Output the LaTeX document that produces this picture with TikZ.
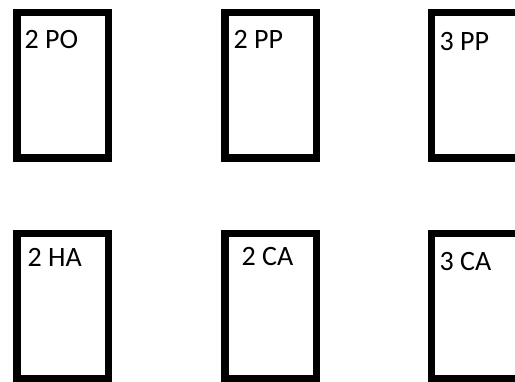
\documentclass[tikz,border=0pt]{standalone}
\usepackage{fontspec}
\setmainfont{Carlito}
\usetikzlibrary{positioning}

\begin{document}
\begin{tikzpicture}[x=1pt, y=-1pt,
    cell/.style={draw=black, line width=7.5pt, inner sep=0pt, outer sep=0pt,
                 anchor=north west, minimum width=91.5pt, minimum height=145.5pt},
    wide/.style={minimum width=100pt},
    tag/.style={anchor=base west, inner sep=0pt, font=\fontsize{28}{30}\selectfont}]
  \useasboundingbox (0,0) rectangle (515,381);
  \clip (0,0) rectangle (515,381);
  % top row
  \node[cell] (po) at (17,12.5) {};
  \node[cell] (pp2) at (225,12.5) {};
  \node[cell, wide] (pp3) at (431.5,12.5) {};
  % bottom row
  \node[cell] (ha) at (17,233.5) {};
  \node[cell] (ca2) at (225,233.5) {};
  \node[cell, wide] (ca3) at (431.5,233.5) {};
  % labels
  \node[tag] (potag) at (24.5,48) {2 PO};
  \node[tag] (pp2tag) at (233.5,48.3) {2 PP};
  \node[tag] (pp3tag) at (439.5,50) {3 PP};
  \node[tag] (hatag) at (27.5,266.7) {2 HA};
  \node[tag] (ca2tag) at (241.5,265.7) {2 CA};
  \node[tag] (ca3tag) at (439.5,270.7) {3 CA};
\end{tikzpicture}
\end{document}
